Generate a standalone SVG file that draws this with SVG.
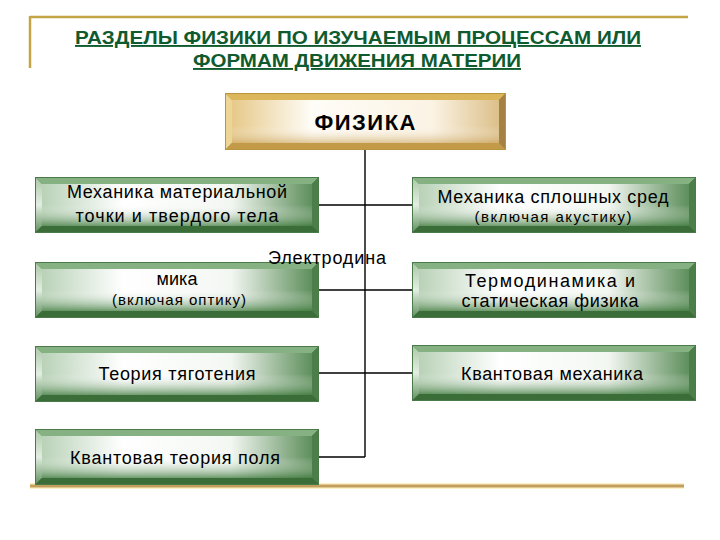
<svg xmlns="http://www.w3.org/2000/svg" width="720" height="540" viewBox="0 0 720 540">
<style>
.title{font-family:"Liberation Sans",Arial,sans-serif;font-weight:bold;font-size:19px;fill:#0f5a2e;text-decoration:underline;text-anchor:middle}
.t{font-family:"Liberation Sans",Arial,sans-serif;font-size:18px;fill:#000;text-anchor:middle}
.s{font-family:"Liberation Sans",Arial,sans-serif;font-size:15px;fill:#000;text-anchor:middle}
.h{font-family:"Liberation Sans",Arial,sans-serif;font-size:22px;font-weight:bold;fill:#000;text-anchor:middle}
.c{stroke:#000;stroke-width:1.4;fill:none}
.frame{stroke:#c4a545;stroke-width:2.5;fill:none}
</style>
<defs>
<linearGradient id="faceH" x1="0" y1="0" x2="1" y2="0">
<stop offset="0" stop-color="#b9d2b7"/>
<stop offset="0.3" stop-color="#ffffff"/>
<stop offset="0.7" stop-color="#f3f7f2"/>
<stop offset="1" stop-color="#5e8f5c"/>
</linearGradient>
<linearGradient id="faceV" x1="0" y1="0" x2="0" y2="1">
<stop offset="0" stop-color="#ffffff" stop-opacity="0"/>
<stop offset="0.5" stop-color="#ffffff" stop-opacity="0"/>
<stop offset="1" stop-color="#3f7a3d" stop-opacity="0.75"/>
</linearGradient>
<linearGradient id="leftB" x1="0" y1="0" x2="0" y2="1">
<stop offset="0" stop-color="#a9c8a6"/>
<stop offset="0.5" stop-color="#e3eee2"/>
<stop offset="1" stop-color="#5d8e5b"/>
</linearGradient>
<linearGradient id="gfaceH" x1="0" y1="0" x2="1" y2="0">
<stop offset="0" stop-color="#e6c98a"/>
<stop offset="0.3" stop-color="#fffdf8"/>
<stop offset="0.75" stop-color="#fbf3e4"/>
<stop offset="1" stop-color="#dcc08a"/>
</linearGradient>
<linearGradient id="gfaceV" x1="0" y1="0" x2="0" y2="1">
<stop offset="0" stop-color="#ffffff" stop-opacity="0"/>
<stop offset="0.6" stop-color="#ffffff" stop-opacity="0"/>
<stop offset="1" stop-color="#c9a35a" stop-opacity="0.6"/>
</linearGradient>
<g id="gbox">
<rect x="0" y="0" width="284" height="56" fill="#3d6b3d"/>
<polygon points="0,0 284,0 277,7 7,7" fill="#86b283"/>
<polygon points="0,0 7,7 7,49 0,56" fill="url(#leftB)"/>
<polygon points="284,0 284,56 277,49 277,7" fill="#4b7e49"/>
<polygon points="0,56 7,49 277,49 284,56" fill="#3b6d39"/>
<rect x="7" y="7" width="270" height="42" fill="url(#faceH)"/>
<rect x="7" y="7" width="270" height="42" fill="url(#faceV)"/>
<rect x="0.5" y="0.5" width="283" height="55" fill="none" stroke="#4a7a48" stroke-width="1"/>
</g>
<g id="obox">
<rect x="0" y="0" width="281" height="57" fill="#a8843e"/>
<polygon points="0,0 281,0 274,7 7,7" fill="#dcb65a"/>
<polygon points="0,0 7,7 7,50 0,57" fill="#ecd595"/>
<polygon points="281,0 281,57 274,50 274,7" fill="#a58243"/>
<polygon points="0,57 7,50 274,50 281,57" fill="#c29a48"/>
<rect x="7" y="7" width="267" height="43" fill="url(#gfaceH)"/>
<rect x="7" y="7" width="267" height="43" fill="url(#gfaceV)"/>
<rect x="0.5" y="0.5" width="280" height="56" fill="none" stroke="#b8953f" stroke-width="1"/>
</g>
</defs>
<rect width="720" height="540" fill="#ffffff"/>
<g id="frame">
<line class="frame" x1="30" y1="17" x2="688" y2="17"/>
<line class="frame" x1="30" y1="16" x2="30" y2="68"/>
<line x1="30" y1="486" x2="684" y2="486" stroke="#fbf2c8" stroke-width="6"/>
<line x1="30" y1="486" x2="684" y2="486" stroke="#c49e5c" stroke-width="3"/>
</g>
<g id="title">
<text class="title" x="358" y="44" textLength="566" lengthAdjust="spacingAndGlyphs">РАЗДЕЛЫ  ФИЗИКИ  ПО  ИЗУЧАЕМЫМ  ПРОЦЕССАМ ИЛИ</text>
<text class="title" x="357" y="67" textLength="328" lengthAdjust="spacingAndGlyphs">ФОРМАМ  ДВИЖЕНИЯ  МАТЕРИИ</text>
</g>
<g id="connectors">
<line class="c" x1="365" y1="150" x2="365" y2="457"/>
<line class="c" x1="318" y1="205" x2="412" y2="205"/>
<line class="c" x1="318" y1="290" x2="412" y2="290"/>
<line class="c" x1="318" y1="373" x2="412" y2="373"/>
<line class="c" x1="318" y1="457" x2="365" y2="457"/>
</g>
<g id="fizika">
<use href="#obox" x="225" y="93"/>
<text class="h" x="365" y="130" textLength="101">ФИЗИКА</text>
</g>
<g id="mech-mat">
<use href="#gbox" x="35" y="177"/>
<text class="t" x="177" y="198" textLength="220">Механика материальной</text>
<text class="t" x="177" y="222" textLength="203">точки и  твердого тела</text>
</g>
<g id="mech-splosh">
<use href="#gbox" x="412" y="177"/>
<text class="t" x="553" y="203" textLength="231">Механика сплошных сред</text>
<text class="s" x="553" y="222" textLength="157">(включая акустику)</text>
</g>
<g id="electro">
<use href="#gbox" x="35" y="262"/>
<text class="t" x="327" y="264" textLength="118">Электродина</text>
<text class="t" x="177" y="285" textLength="41">мика</text>
<text class="s" x="179" y="305" textLength="134">(включая оптику)</text>
</g>
<g id="thermo">
<use href="#gbox" x="412" y="262"/>
<text class="t" x="550" y="287" textLength="170">Термодинамика  и</text>
<text class="t" x="550" y="307" textLength="177">статическая физика</text>
</g>
<g id="gravity">
<use href="#gbox" x="35" y="346"/>
<text class="t" x="177" y="380" textLength="157">Теория тяготения</text>
</g>
<g id="quantum-mech">
<use href="#gbox" x="412" y="345"/>
<text class="t" x="552" y="380" textLength="182">Квантовая механика</text>
</g>
<g id="qft">
<use href="#gbox" x="35" y="429"/>
<text class="t" x="175" y="464" textLength="210">Квантовая теория поля</text>
</g>
</svg>
